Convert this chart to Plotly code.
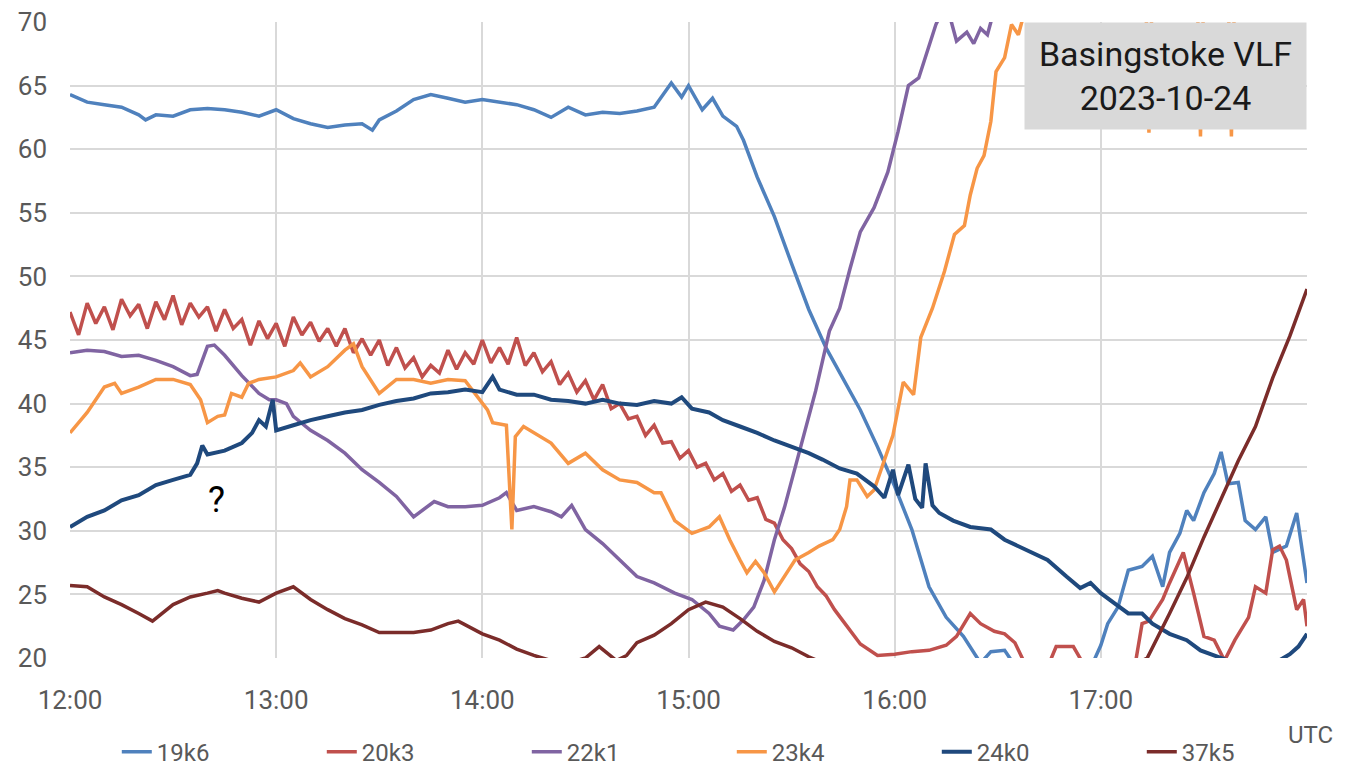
import pandas as pd
import plotly.graph_objects as go

# minutes after 12:00 UTC and received level for each VLF transmitter
t_19k6 = [0, 5, 10, 15, 20, 22, 25, 30, 35, 40, 45, 50, 55, 60, 65, 70, 75, 80, 85, 88, 90, 95, 100, 105,
          110, 115, 120, 125, 130, 135, 140, 145, 150, 155, 160, 165, 170, 175, 178, 180, 184, 187, 190, 194,
          196, 200, 205, 210, 215, 220, 225, 230, 235, 240, 245, 250, 255, 260, 265, 268, 272, 276, 285, 295,
          298, 300, 302, 305, 308, 312, 315, 318, 320, 323, 325, 327, 330, 333, 335, 337, 340, 342, 345, 348,
          350, 354, 357, 359, 360]
v_19k6 = [64.3, 63.7, 63.5, 63.3, 62.7, 62.3, 62.7, 62.6, 63.1, 63.2, 63.1, 62.9, 62.6, 63.1, 62.4, 62.0,
          61.7, 61.9, 62.0, 61.5, 62.3, 63.0, 63.9, 64.3, 64.0, 63.7, 63.9, 63.7, 63.5, 63.1, 62.5, 63.3, 62.7,
          62.9, 62.8, 63.0, 63.3, 65.2, 64.1, 65.0, 63.1, 64.0, 62.6, 61.8, 60.7, 57.8, 54.7, 51.0, 47.4, 44.4,
          41.9, 39.5, 36.6, 33.5, 30.1, 25.6, 23.2, 21.7, 19.6, 20.5, 20.6, 19.0, 18.5, 18.5, 19.8, 21.0, 22.7,
          24.0, 26.9, 27.2, 28.0, 25.6, 28.3, 29.8, 31.6, 30.8, 33.0, 34.5, 36.2, 33.7, 33.8, 30.8, 30.1, 31.1,
          28.3, 28.8, 31.4, 27.7, 25.9]

t_20k3 = [0, 2.5, 5, 7.5, 10, 12.5, 15, 17.5, 20, 22.5, 25, 27.5, 30, 32.5, 35, 37.5, 40, 42.5, 45, 47.5,
          50, 52.5, 55, 57.5, 60, 62.5, 65, 67.5, 70, 72.5, 75, 77.5, 80, 82.5, 85, 87.5, 90, 92.5, 95, 97.5,
          100, 102.5, 105, 107.5, 110, 112.5, 115, 117.5, 120, 122.5, 125, 127.5, 130, 132.5, 135, 137.5,
          140, 142.5, 145, 147.5, 150, 152.5, 155, 157.5, 160, 162.5, 165, 167.5, 170, 172.5, 175, 177.5,
          180, 182.5, 185, 187.5, 190, 192.5, 195, 197.5, 200, 202.5, 205, 207.5, 210, 212.5, 215, 217.5,
          220, 222.5, 225, 230, 235, 240, 245, 250, 255, 258, 262, 265, 269, 272, 275, 278, 285, 287, 292,
          295, 310, 312, 314, 318, 320, 324, 327, 330, 333, 336, 339, 343, 345, 348, 350, 352, 354, 357, 359,
          360]
v_20k3 = [47.2, 45.4, 47.9, 46.3, 47.6, 45.8, 48.2, 46.9, 47.8, 45.9, 48.0, 46.6, 48.5, 46.2, 47.9, 46.8,
          47.6, 45.7, 47.4, 45.9, 46.6, 44.6, 46.5, 45.1, 46.3, 44.5, 46.8, 45.4, 46.4, 44.9, 45.9, 44.5,
          45.9, 44.0, 45.1, 43.8, 45.0, 43.0, 44.4, 42.8, 43.6, 42.1, 43.0, 42.4, 44.2, 42.7, 44.0, 43.1,
          45.0, 43.2, 44.4, 43.1, 45.2, 43.0, 44.0, 42.5, 43.3, 41.5, 42.4, 40.9, 41.8, 40.3, 41.5, 39.6,
          40.0, 38.8, 39.0, 37.5, 38.3, 36.9, 37.0, 35.7, 36.3, 35.0, 35.3, 34.0, 34.5, 33.1, 33.6, 32.4,
          32.6, 30.9, 30.6, 29.3, 28.6, 27.4, 26.8, 25.6, 24.9, 23.8, 22.9, 21.1, 20.2, 20.3, 20.5, 20.6,
          21.0, 21.7, 23.5, 22.7, 22.1, 21.9, 21.2, 19.5, 19.6, 20.9, 20.9, 19.5, 19.5, 22.7, 22.9, 24.6,
          25.9, 28.3, 25.1, 21.7, 21.4, 19.8, 21.4, 23.2, 25.6, 25.1, 28.5, 28.8, 27.7, 23.8, 24.6, 22.5]

t_22k1 = [0, 5, 10, 15, 20, 25, 30, 35, 37, 40, 42, 45, 50, 55, 58, 60, 63, 65, 70, 75, 80, 85, 90, 95, 100,
          106, 110, 115, 120, 125, 127, 130, 135, 140, 143, 146, 150, 155, 160, 165, 170, 176, 181, 186, 189,
          193, 196, 199, 202, 205, 208, 211, 214, 217, 221, 224, 227, 230, 234, 238, 241, 244, 247, 250, 252,
          255, 258, 261, 263, 265, 267, 270, 280, 300, 330, 360]
v_22k1 = [44.0, 44.2, 44.1, 43.7, 43.8, 43.4, 42.9, 42.2, 42.3, 44.5, 44.6, 43.8, 42.2, 40.8, 40.3, 40.3,
          40.0, 39.0, 37.9, 37.1, 36.1, 34.8, 33.8, 32.7, 31.1, 32.3, 31.9, 31.9, 32.0, 32.6, 33.0, 31.6, 31.9,
          31.5, 31.1, 32.0, 30.1, 29.0, 27.7, 26.4, 25.9, 25.1, 24.6, 23.5, 22.5, 22.2, 23.0, 24.0, 26.1, 29.3,
          31.9, 35.0, 37.9, 41.0, 45.7, 47.5, 50.6, 53.5, 55.4, 58.2, 61.4, 65.0, 65.6, 68.0, 69.8, 71.5, 68.5,
          69.2, 68.3, 69.5, 69.0, 72.0, 74.0, 76.0, 78.0, 80.0]

t_23k4 = [0, 5, 10, 13, 15, 20, 25, 30, 35, 38, 40, 43, 45, 47, 50, 52, 55, 60, 65, 67, 70, 75, 80, 82.5, 85,
          90, 95, 100, 105, 110, 115, 118.5, 121.5, 123, 127, 128.6, 129.6, 132, 135, 140, 145, 150, 155, 160,
          165, 170, 172, 176, 181, 186, 189, 192, 195, 197, 199.5, 202, 205, 208, 211, 215, 218, 222, 224, 226,
          227, 229, 232, 234, 239.5, 242.5, 245.5, 247.6, 251, 254.5, 257.4, 260.3, 262, 264, 266, 268, 269.5,
          272, 274, 276, 278, 290, 313, 314, 315, 328, 329, 330, 337, 338, 339, 360]
v_23k4 = [37.7, 39.3, 41.3, 41.6, 40.8, 41.3, 41.9, 41.9, 41.5, 40.3, 38.5, 39.0, 39.1, 40.8, 40.5, 41.6,
          41.9, 42.1, 42.6, 43.2, 42.1, 42.9, 44.2, 44.7, 42.9, 40.8, 41.9, 41.9, 41.6, 41.9, 41.8, 40.5, 39.5,
          38.5, 38.3, 30.1, 37.4, 38.2, 37.7, 36.9, 35.3, 36.1, 34.8, 34.0, 33.8, 33.0, 33.0, 30.8, 29.8, 30.3,
          31.1, 29.3, 27.7, 26.7, 27.6, 26.7, 25.2, 26.4, 27.7, 28.3, 28.8, 29.3, 30.1, 31.9, 34.0, 34.0, 32.7,
          33.2, 37.5, 41.7, 40.7, 45.2, 47.5, 50.4, 53.3, 54.0, 56.4, 58.5, 59.5, 62.2, 66.1, 67.2, 69.8, 69.0,
          71.0, 73.0, 73.0, 61.3, 73.0, 73.0, 61.0, 73.0, 73.0, 61.0, 73.0, 73.0]

t_24k0 = [0, 5, 10, 15, 20, 25, 30, 35, 37, 38.5, 40, 45, 50, 53, 55, 57, 59, 60, 65, 70, 75, 80, 85, 90, 95,
          100, 105, 110, 115, 120, 123, 125, 130, 135, 140, 145, 150, 155, 160, 165, 170, 175, 178, 181, 186,
          190, 195, 200, 205, 210, 215, 219, 224, 229, 234, 237, 239.5, 241, 244, 246, 248, 249, 251, 253, 257,
          262, 268, 272, 279, 284.5, 290, 294, 297, 300, 304, 308, 312, 315, 320, 325, 329, 333, 340, 350, 355,
          357.5, 360]
v_24k0 = [30.3, 31.1, 31.6, 32.4, 32.8, 33.6, 34.0, 34.4, 35.3, 36.7, 36.0, 36.3, 36.9, 37.7, 38.7, 38.2,
          40.3, 37.9, 38.3, 38.7, 39.0, 39.3, 39.5, 39.9, 40.2, 40.4, 40.8, 40.9, 41.1, 40.9, 42.1, 41.1, 40.7,
          40.7, 40.3, 40.2, 40.0, 40.3, 40.0, 39.9, 40.2, 40.0, 40.5, 39.6, 39.3, 38.7, 38.2, 37.7, 37.1, 36.6,
          36.1, 35.6, 34.9, 34.5, 33.5, 32.6, 34.8, 32.8, 35.2, 32.5, 31.8, 35.3, 32.0, 31.4, 30.8, 30.3, 30.1,
          29.3, 28.4, 27.7, 26.4, 25.5, 25.9, 25.1, 24.3, 23.5, 23.5, 22.7, 21.9, 21.4, 20.6, 20.2, 19.5, 19.5,
          20.3, 20.9, 21.9]

t_37k5 = [0, 5, 10, 15, 20, 24, 30, 35, 40, 43, 45, 50, 55, 60, 65, 70, 75, 80, 85, 90, 95, 100, 105, 110,
          113, 115, 120, 125, 130, 135, 140, 145, 150, 154, 159, 162, 165, 170, 175, 180, 185, 190, 195, 200,
          205, 210, 215, 220, 310, 313.5, 315, 320, 325, 330, 335, 340, 345, 350, 355, 360]
v_37k5 = [25.7, 25.6, 24.8, 24.2, 23.5, 22.9, 24.2, 24.8, 25.1, 25.3, 25.1, 24.7, 24.4, 25.1, 25.6, 24.6,
          23.8, 23.1, 22.6, 22.0, 22.0, 22.0, 22.2, 22.7, 22.9, 22.6, 21.9, 21.4, 20.7, 20.2, 19.8, 19.6, 20.0,
          20.9, 19.8, 20.2, 21.2, 21.8, 22.7, 23.8, 24.4, 24.0, 23.1, 22.1, 21.3, 20.8, 20.1, 19.5, 19.5, 20.0,
          20.8, 23.5, 26.3, 29.5, 32.5, 35.5, 38.2, 42.0, 45.3, 49.0]

serie_nomes = ['19k6', '20k3', '22k1', '23k4', '24k0', '37k5']
serie_tempos = [t_19k6, t_20k3, t_22k1, t_23k4, t_24k0, t_37k5]
serie_valores = [v_19k6, v_20k3, v_22k1, v_23k4, v_24k0, v_37k5]
cores = ['#4F81BD', '#C0504D', '#8064A2', '#F79646', '#1F497D', '#7B2C2A']
larguras = [3.5, 3.5, 3.5, 3.5, 4, 3.5]

horas = ['12:00', '13:00', '14:00', '15:00', '16:00', '17:00']

inicio = pd.Timestamp('2023-10-24 12:00')
fonte = 'Roboto, sans-serif'
cinza = '#595959'

fig = go.Figure()
for nome, tempos, valores, cor, larg in zip(serie_nomes, serie_tempos, serie_valores, cores, larguras):
    fig.add_trace(go.Scatter(
        x=inicio + pd.to_timedelta(tempos, unit='min'),
        y=valores,
        mode='lines',
        name=nome,
        line=dict(color=cor, width=larg),
    ))

# a página tem 8px de margem no body, por isso a figura é um pouco menor
fig.update_layout(
    width=1346, height=760,
    margin=dict(l=62, r=47, t=14, b=110, autoexpand=False),
    paper_bgcolor='white', plot_bgcolor='white',
    font=dict(family=fonte, color=cinza, size=24),
    legend=dict(orientation='h', x=0.535, xanchor='center', y=-0.148, yanchor='middle',
                font=dict(size=24, color=cinza), entrywidth=160, entrywidthmode='pixels'),
    showlegend=True,
)
fig.update_xaxes(
    type='date',
    range=[inicio, inicio + pd.Timedelta(hours=6)],
    tickvals=['2023-10-24 ' + h for h in horas], ticktext=horas,
    showgrid=True, gridcolor='#d9d9d9', gridwidth=1.5,
    zeroline=False, showline=False,
    ticks='', ticklabelstandoff=24,
    tickfont=dict(size=26, color=cinza),
)
fig.update_yaxes(
    range=[20, 70], dtick=5,
    showgrid=True, gridcolor='#d9d9d9', gridwidth=1.5,
    zeroline=False, showline=False,
    ticks='', ticklabelstandoff=22, ticklabeloverflow='allow',
    tickfont=dict(size=26, color=cinza),
)

# caixa de título no canto superior direito
fig.add_annotation(
    text='Basingstoke VLF<br>2023-10-24',
    xref='paper', yref='paper', x=1, y=1, xanchor='right', yanchor='top',
    showarrow=False, bgcolor='#d9d9d9', width=279, height=104, borderpad=1,
    font=dict(family=fonte, size=34, color='#1a1a1a'),
)
fig.add_annotation(
    text='?', x=inicio + pd.Timedelta(minutes=42.5), y=32.4,
    showarrow=False, font=dict(family=fonte, size=36, color='black'),
)
fig.add_annotation(
    text='UTC', xref='paper', yref='paper', x=1.0025, y=-0.121,
    xanchor='center', yanchor='middle', showarrow=False,
    font=dict(family=fonte, size=24, color=cinza),
)

fig.write_html('out.html')
